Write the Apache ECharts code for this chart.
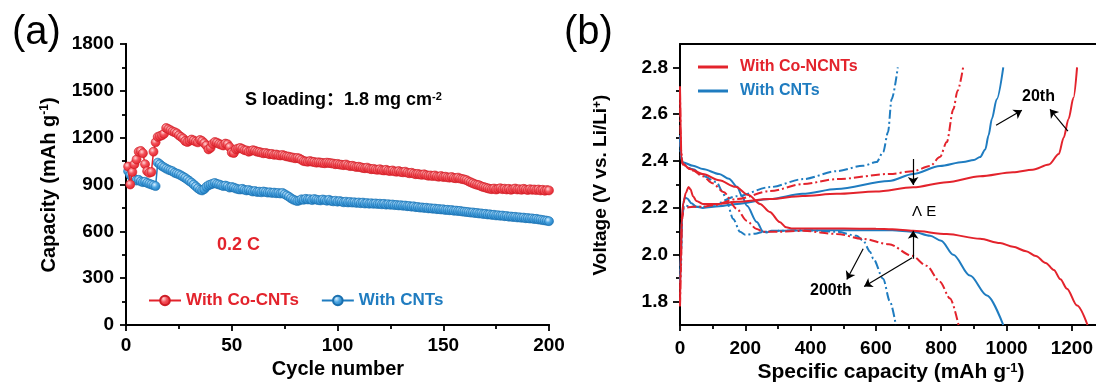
<!DOCTYPE html>
<html><head><meta charset="utf-8">
<script src="https://cdn.jsdelivr.net/npm/echarts@6/dist/echarts.min.js"></script>
<style>html,body{margin:0;padding:0;background:#fff}#c{width:1096px;height:390px}</style>
</head><body><div id="c"></div>
<script>
// ---------- Panel (a): capacity vs cycle number ----------
const cycleNumbers = Array.from({length: 200}, (_, i) => i + 1);
const capCoCNTs = [
 1015, 900, 980, 1030, 1060, 1110, 1115, 1100, 1030, 985,
 975, 980, 1110, 1170, 1205, 1210, 1215, 1225, 1262, 1255,
 1248, 1240, 1235, 1228, 1215, 1205, 1195, 1178, 1172, 1180,
 1188, 1182, 1175, 1170, 1185, 1178, 1165, 1150, 1125, 1135,
 1160, 1172, 1168, 1160, 1155, 1150, 1162, 1158, 1140, 1105,
 1102, 1125, 1130, 1134, 1128, 1120, 1118, 1110, 1115, 1120,
 1116, 1110, 1108, 1104, 1100, 1102, 1098, 1094, 1096, 1090,
 1092, 1088, 1086, 1089, 1084, 1080, 1078, 1074, 1072, 1068,
 1070, 1066, 1058, 1050, 1048, 1046, 1050, 1046, 1044, 1040,
 1042, 1040, 1038, 1036, 1040, 1038, 1036, 1034, 1030, 1032,
 1028, 1026, 1024, 1028, 1022, 1018, 1020, 1016, 1012, 1014,
 1010, 1006, 1004, 1008, 1002, 998, 1000, 996, 994, 998,
 992, 990, 994, 988, 986, 990, 984, 982, 986, 980,
 978, 982, 976, 972, 975, 970, 966, 968, 964, 962,
 965, 960, 956, 958, 954, 958, 952, 950, 954, 948,
 950, 946, 944, 948, 942, 940, 944, 938, 935, 932,
 928, 920, 914, 908, 902, 898, 895, 888, 884, 880,
 876, 872, 870, 874, 868, 872, 876, 870, 873, 868,
 872, 866, 870, 874, 868, 870, 866, 872, 868, 865,
 870, 866, 868, 864, 868, 862, 866, 860, 864, 862
];
const capCNTs = [
 985, 960, 945, 935, 925, 930, 920, 915, 918, 910,
 905, 900, 895, 890, 1040, 1030, 1018, 1010, 1002, 995,
 990, 985, 975, 970, 965, 958, 950, 942, 932, 922,
 912, 900, 888, 876, 866, 862, 870, 885, 895, 900,
 905, 910, 904, 900, 895, 890, 893, 888, 880, 884,
 880, 874, 870, 868, 872, 866, 862, 865, 860, 855,
 858, 852, 854, 850, 855, 852, 848, 850, 846, 848,
 844, 846, 842, 846, 838, 830, 822, 812, 804, 798,
 794, 798, 805, 802, 808, 804, 806, 800, 807, 803,
 800, 798, 804, 800, 796, 802, 795, 792, 796, 790,
 794, 790, 786, 790, 785, 788, 784, 786, 782, 785,
 780, 784, 778, 781, 777, 780, 776, 779, 775, 777,
 773, 776, 771, 774, 770, 772, 768, 769, 766, 767,
 764, 765, 761, 762, 758, 760, 755, 756, 752, 753,
 750, 751, 747, 748, 745, 746, 742, 743, 740, 741,
 737, 738, 735, 736, 732, 733, 730, 731, 727, 726,
 724, 723, 720, 721, 717, 718, 714, 715, 711, 712,
 708, 709, 705, 706, 702, 703, 700, 701, 697, 698,
 694, 695, 692, 693, 689, 690, 687, 688, 684, 685,
 682, 683, 679, 680, 676, 675, 672, 670, 668, 665
];

// ---------- Panel (b): voltage profiles [capacity, voltage] ----------
const coN20Discharge = [[0,2.72],[2,2.55],[4,2.42],[8,2.39],[30,2.366],[70,2.345],[120,2.318],[170,2.29],[210,2.255],[245,2.217],[275,2.183],[305,2.14],[325,2.117],[345,2.112],[400,2.112],[500,2.112],[600,2.111],[650,2.109],[714,2.102],[817,2.089],[919,2.068],[980,2.05],[1020,2.034],[1060,2.015],[1090,1.995],[1120,1.965],[1145,1.935],[1165,1.895],[1185,1.855],[1216,1.783],[1248,1.70]];
const coN20Charge = [[0,1.78],[2,1.95],[5,2.15],[10,2.22],[18,2.265],[26,2.289],[32,2.28],[40,2.25],[50,2.23],[70,2.217],[120,2.217],[175,2.226],[275,2.238],[375,2.251],[480,2.26],[600,2.27],[714,2.288],[817,2.31],[919,2.335],[1020,2.352],[1080,2.363],[1130,2.385],[1160,2.43],[1175,2.5],[1190,2.58],[1205,2.67],[1216,2.8]];
const cnt20Discharge = [[0,2.51],[3,2.42],[8,2.395],[40,2.38],[70,2.366],[120,2.345],[150,2.325],[175,2.29],[190,2.25],[205,2.209],[235,2.14],[255,2.098],[265,2.095],[280,2.102],[400,2.105],[550,2.105],[650,2.105],[714,2.098],[766,2.081],[800,2.06],[837,2.0],[888,1.911],[940,1.826],[990,1.70]];
const cnt20Charge = [[0,1.88],[3,2.0],[6,2.15],[10,2.22],[15,2.245],[22,2.24],[35,2.22],[50,2.205],[70,2.2],[120,2.207],[175,2.217],[275,2.238],[375,2.26],[480,2.281],[640,2.315],[714,2.345],[796,2.379],[867,2.396],[900,2.405],[919,2.417],[935,2.45],[945,2.51],[955,2.58],[970,2.664],[990,2.8]];
const coN200Discharge = [[0,2.7],[3,2.45],[8,2.385],[40,2.36],[70,2.335],[100,2.305],[133,2.268],[174,2.196],[204,2.145],[235,2.11],[255,2.098],[300,2.098],[377,2.102],[480,2.089],[560,2.068],[640,2.045],[710,1.996],[755,1.953],[796,1.885],[827,1.813],[853,1.70]];
const coN200Charge = [[0,1.78],[3,1.95],[6,2.15],[12,2.2],[40,2.205],[70,2.205],[100,2.211],[174,2.238],[276,2.272],[377,2.302],[480,2.323],[643,2.345],[714,2.357],[766,2.379],[796,2.417],[817,2.481],[837,2.621],[850,2.7],[867,2.8]];
const cnt200Discharge = [[0,2.5],[3,2.42],[8,2.385],[40,2.365],[71,2.336],[112,2.31],[130,2.27],[143,2.226],[163,2.153],[184,2.098],[200,2.085],[230,2.09],[255,2.098],[300,2.102],[377,2.105],[480,2.098],[541,2.081],[561,2.06],[582,2.013],[592,1.983],[622,1.898],[643,1.8],[661,1.70]];
const cnt200Charge = [[0,1.88],[3,2.0],[6,2.15],[12,2.21],[40,2.205],[70,2.205],[100,2.213],[174,2.25],[276,2.289],[377,2.323],[480,2.357],[560,2.38],[602,2.396],[622,2.438],[637,2.523],[648,2.664],[667,2.8]];

const voltLabels = [1.8, 2.0, 2.2, 2.4, 2.6, 2.8];
const voltMinor = [1.9, 2.1, 2.3, 2.5, 2.7];
const capLabels = [0, 200, 400, 600, 800, 1000, 1200];
const capMinor = [100, 300, 500, 700, 900, 1100];

// annotation arrows in data coordinates of panel (b): [from, to]
const arrowsB = [
  [[968, 2.553], [1047, 2.617]],
  [[1188, 2.528], [1133, 2.621]],
  [[714, 2.409], [714, 2.298]],
  [[714, 1.983], [714, 2.102]],
  [[561, 2.026], [511, 1.894]],
  [[711, 1.987], [564, 1.864]]
];

const RED = '#e3232c', BLUE = '#1f7cc0';
const FF = "'Liberation Sans', Arial, 'Noto Sans CJK SC', sans-serif";
const tickFont = {fontSize: 19, fontWeight: 'bold', color: '#000', fontFamily: FF};
const axLine = {show: true, lineStyle: {color: '#000', width: 2}};
const tickLine = {color: '#000', width: 1.8};

function radial(c0, c1, c2) {
  return {type: 'radial', x: 0.38, y: 0.35, r: 0.65,
    colorStops: [{offset: 0, color: c0}, {offset: 0.45, color: c1}, {offset: 1, color: c2}]};
}

function sup(main, s, size) {
  return {
    text: '{n|' + main + '}{s|' + s + '}{n|)}',
    rich: {
      n: {fontSize: size, fontWeight: 'bold', fontFamily: FF, fill: '#000'},
      s: {fontSize: Math.round(size * 0.62), fontWeight: 'bold', fontFamily: FF, fill: '#000', verticalAlign: 'top'}
    }
  };
}

const chart = echarts.init(document.getElementById('c'), null, {renderer: 'canvas'});

const curveB = (name, data, color, dashed, z) => ({
  type: 'line', name: name, xAxisIndex: 2, yAxisIndex: 2, data: data,
  symbol: 'none', smooth: 0.3, smoothMonotone: 'x', z: z,
  lineStyle: {color: color, width: 2, type: dashed ? [9, 3, 2, 3] : 'solid'},
  itemStyle: {color: color}
});

const seriesB = [
  curveB('b-With CNTs', cnt20Discharge, BLUE, false, 3),
  curveB('b-With CNTs', cnt20Charge, BLUE, false, 3),
  curveB('cnt200d', cnt200Discharge, BLUE, true, 3),
  curveB('cnt200c', cnt200Charge, BLUE, true, 3),
  curveB('b-With Co-NCNTs', coN20Discharge, RED, false, 4),
  curveB('b-With Co-NCNTs', coN20Charge, RED, false, 4),
  curveB('con200d', coN200Discharge, RED, true, 4),
  curveB('con200c', coN200Charge, RED, true, 4)
];
seriesB[0].markLine = {
  silent: true, animation: false,
  symbol: ['none', 'arrow'], symbolSize: 8,
  lineStyle: {color: '#000', width: 1.2, type: 'solid'},
  label: {show: false},
  data: arrowsB.map(a => [{coord: a[0]}, {coord: a[1]}])
};

const option = {
  animation: false,
  backgroundColor: '#fff',
  grid: [
    {left: 126, top: 44, width: 423, height: 281, outerBoundsMode: 'none'},
    {left: 680, top: 44, width: 416, height: 281, outerBoundsMode: 'none'}
  ],
  xAxis: [
    {type: 'value', gridIndex: 0, min: 0, max: 200, interval: 50, position: 'bottom',
     axisLine: axLine, axisTick: {show: true, length: 6, lineStyle: tickLine},
     minorTick: {show: true, splitNumber: 2, length: 4, lineStyle: tickLine},
     splitLine: {show: false}, axisLabel: Object.assign({margin: 11, formatter: v => String(v)}, tickFont)},
    {type: 'value', gridIndex: 0, min: 0, max: 200, position: 'top',
     axisLine: axLine, axisTick: {show: false}, axisLabel: {show: false}, splitLine: {show: false}},
    {type: 'value', gridIndex: 1, min: 0, max: 1274, position: 'bottom',
     axisLine: axLine, axisTick: {show: true, length: 6, customValues: capLabels, lineStyle: tickLine},
     splitLine: {show: false},
     axisLabel: Object.assign({margin: 14, customValues: capLabels, formatter: v => String(v)}, tickFont)},
    {type: 'value', gridIndex: 1, min: 0, max: 1274, position: 'top',
     axisLine: axLine, axisTick: {show: false}, axisLabel: {show: false}, splitLine: {show: false}},
    {type: 'value', gridIndex: 1, min: 0, max: 1274, position: 'bottom',
     axisLine: {show: false}, axisTick: {show: true, length: 4, customValues: capMinor, lineStyle: tickLine},
     axisLabel: {show: false}, splitLine: {show: false}}
  ],
  yAxis: [
    {type: 'value', gridIndex: 0, min: 0, max: 1800, interval: 300, position: 'left',
     axisLine: axLine, axisTick: {show: true, length: 6, lineStyle: tickLine},
     minorTick: {show: true, splitNumber: 2, length: 4, lineStyle: tickLine},
     splitLine: {show: false}, axisLabel: Object.assign({margin: 12, formatter: v => String(v)}, tickFont)},
    {type: 'value', gridIndex: 0, min: 0, max: 1800, position: 'right',
     axisLine: axLine, axisTick: {show: false}, axisLabel: {show: false}, splitLine: {show: false}},
    {type: 'value', gridIndex: 1, min: 1.7, max: 2.9, position: 'left',
     axisLine: axLine,
     axisTick: {show: true, length: 7, customValues: voltLabels, lineStyle: tickLine},
     splitLine: {show: false},
     axisLabel: Object.assign({margin: 12, customValues: voltLabels, formatter: v => v.toFixed(1)}, tickFont)},
    {type: 'value', gridIndex: 1, min: 1.7, max: 2.9, position: 'left',
     axisLine: {show: false},
     axisTick: {show: true, length: 4, customValues: voltMinor, lineStyle: tickLine},
     splitLine: {show: false}, axisLabel: {show: false}}
  ],
  legend: [
    {left: 148, top: 292, padding: 0, itemWidth: 32, itemHeight: 12, itemGap: 22,
     selectedMode: false,
     textStyle: {fontSize: 17, fontWeight: 'bold', fontFamily: FF},
     data: [{name: 'With Co-CNTs', textStyle: {color: RED}}, {name: 'With CNTs', textStyle: {color: BLUE}}]},
    {left: 698, top: 59, padding: 0, orient: 'vertical', itemWidth: 30, itemHeight: 3, itemGap: 8,
     selectedMode: false, icon: 'rect',
     formatter: n => n.replace('b-', ''),
     textStyle: {fontSize: 16, fontWeight: 'bold', fontFamily: FF, padding: [0, 0, 0, 7]},
     data: [{name: 'b-With Co-NCNTs', textStyle: {color: RED}}, {name: 'b-With CNTs', textStyle: {color: BLUE}}]}
  ],
  series: [
    {type: 'line', name: 'With CNTs', xAxisIndex: 0, yAxisIndex: 0,
     data: capCNTs.map((v, i) => [cycleNumbers[i], v]),
     symbol: 'circle', symbolSize: 9, z: 3,
     lineStyle: {color: BLUE, width: 1.5},
     itemStyle: {color: radial('#d8efff', '#4da6e2', BLUE), borderColor: '#1a6fae', borderWidth: 0.6}},
    {type: 'line', name: 'With Co-CNTs', xAxisIndex: 0, yAxisIndex: 0,
     data: capCoCNTs.map((v, i) => [cycleNumbers[i], v]),
     symbol: 'circle', symbolSize: 9, z: 4,
     lineStyle: {color: RED, width: 1.5},
     itemStyle: {color: radial('#ffd6d6', '#f4525b', RED), borderColor: '#cc1c25', borderWidth: 0.6}}
  ].concat(seriesB),
  graphic: [
    {type: 'text', x: 12, y: 33, style: {text: '(a)', fontSize: 40, fontFamily: FF, fill: '#000', textAlign: 'left', textVerticalAlign: 'middle'}},
    {type: 'text', x: 564, y: 33, style: {text: '(b)', fontSize: 40, fontFamily: FF, fill: '#000', textAlign: 'left', textVerticalAlign: 'middle'}},
    {type: 'text', x: 49, y: 185, rotation: Math.PI / 2,
     style: Object.assign(sup('Capacity (mAh g', '-1', 20), {textAlign: 'center', textVerticalAlign: 'middle'})},
    {type: 'text', x: 338, y: 369,
     style: {text: 'Cycle number', fontSize: 20, fontWeight: 'bold', fontFamily: FF, fill: '#000', textAlign: 'center', textVerticalAlign: 'middle'}},
    {type: 'text', x: 601, y: 185, rotation: Math.PI / 2,
     style: {text: '{n|Voltage (V vs. Li/Li}{s|+}{n|)}',
       rich: {n: {fontSize: 19, fontWeight: 'bold', fontFamily: FF, fill: '#000'},
              s: {fontSize: 12, fontWeight: 'bold', fontFamily: FF, fill: '#000', verticalAlign: 'top'}},
       textAlign: 'center', textVerticalAlign: 'middle'}},
    {type: 'text', x: 891, y: 372,
     style: Object.assign(sup('Specific capacity (mAh g', '-1', 21), {textAlign: 'center', textVerticalAlign: 'middle'})},
    {type: 'text', x: 245, y: 100,
     style: {text: '{n|S loading：1.8 mg cm}{s|-2}',
       rich: {n: {fontSize: 18, fontWeight: 'bold', fontFamily: FF, fill: '#000'},
              s: {fontSize: 11, fontWeight: 'bold', fontFamily: FF, fill: '#000', verticalAlign: 'top'}},
       textAlign: 'left', textVerticalAlign: 'middle'}},
    {type: 'text', x: 217, y: 245,
     style: {text: '0.2 C', fontSize: 18, fontWeight: 'bold', fontFamily: FF, fill: RED, textAlign: 'left', textVerticalAlign: 'middle'}},
    {type: 'text', x: 1022, y: 97,
     style: {text: '20th', fontSize: 16, fontWeight: 'bold', fontFamily: FF, fill: '#000', textAlign: 'left', textVerticalAlign: 'middle'}},
    {type: 'text', x: 810, y: 291,
     style: {text: '200th', fontSize: 16, fontWeight: 'bold', fontFamily: FF, fill: '#000', textAlign: 'left', textVerticalAlign: 'middle'}},
    {type: 'text', x: 912, y: 212,
     style: {text: 'Λ E', fontSize: 15, fontFamily: FF, fill: '#000', textAlign: 'left', textVerticalAlign: 'middle'}}
  ]
};
chart.setOption(option);
</script>
</body></html>
